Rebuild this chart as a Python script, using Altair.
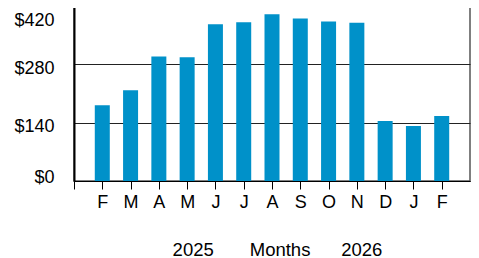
import altair as alt
import pandas as pd

months = ["F", "M", "A", "M", "J", "J", "A", "S", "O", "N", "D", "J", "F"]
values = [182, 218, 299, 297, 376, 381, 400, 390, 383, 380, 144, 132, 156]
y_ticks = [0, 140, 280, 420]

df = pd.DataFrame({"month": months, "value": values, "idx": list(range(1, len(months) + 1))})

label_arr = "[''," + ",".join("'%s'" % m for m in months) + "]"
FONT = "Liberation Sans"
NB = "\u00a0"
title = "2025" + NB * 7 + "Months" + NB * 6 + "2026"

chart = alt.Chart(df).mark_bar(size=15, color="#0091c9").encode(
    x=alt.X(
        "idx:Q",
        scale=alt.Scale(domain=[0, len(months) + 1], nice=False, zero=False, padding=0),
        axis=alt.Axis(
            values=list(range(0, len(months) + 1)),
            labelExpr=label_arr + "[datum.value]",
            grid=False,
            tickSize=8,
            tickColor="black",
            domainColor="black",
            labelFontSize=18,
            labelFont=FONT,
            labelColor="black",
            labelPadding=4,
            title=title,
            titleFont=FONT,
            titleFontSize=18.5,
            titleFontWeight="normal",
            titleColor="black",
            titlePadding=29,
            titleX=203,
            titleAlign="center",
        ),
    ),
    y=alt.Y(
        "value:Q",
        scale=alt.Scale(domain=[0, 420], nice=False),
        axis=alt.Axis(
            values=y_ticks,
            labelExpr="'$' + datum.value",
            grid=True,
            gridColor="#222222",
            gridWidth=1,
            tickSize=0,
            domainColor="black",
            domainWidth=2,
            labelFontSize=18,
            labelFont=FONT,
            labelColor="black",
            labelPadding=20,
            labelOffset=alt.ExprRef("datum.value == 420 ? 14 : datum.value == 0 ? -4 : 4"),
            title=None,
        ),
    ),
).properties(
    width=396,
    height=175,
    autosize=alt.AutoSizeParams(type="none"),
    padding={"left": 66, "top": -2, "right": 1, "bottom": 77},
).configure_view(stroke="#555555", strokeWidth=1.5)

chart.save("out.html", embed_options={"renderer": "svg", "actions": False})
